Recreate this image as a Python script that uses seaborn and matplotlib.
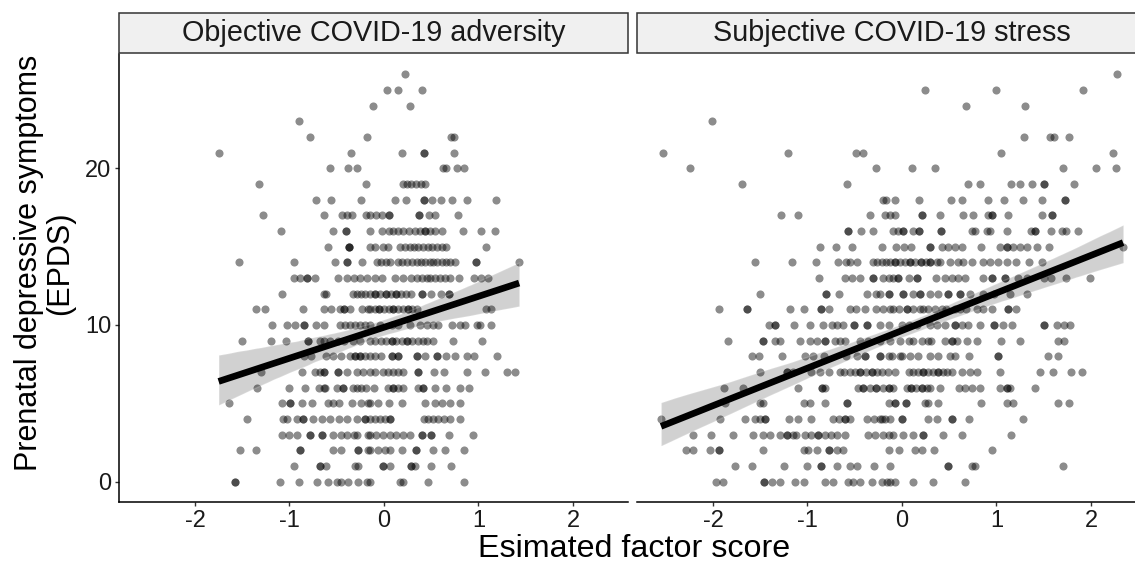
import matplotlib
matplotlib.use("Agg")
import matplotlib.pyplot as plt
from matplotlib.patches import Rectangle
import numpy as np
import pandas as pd
import seaborn as sns

# EPDS score (0..26) -> estimated factor scores of participants with that score
objective_rows = [
    [-1.58, -1.58, -1.10, -0.90, -0.71, -0.59, -0.50, -0.45, -0.38, -0.27, -0.18, -0.15, 0.17, 0.20, 0.47, 0.85],
    [-0.95, -0.68, -0.68, -0.61, -0.31, -0.27, -0.01, -0.01, 0.06, 0.29, 0.29, 0.33, 0.50, 0.71],
    [-1.52, -1.35, -0.89, -0.89, -0.54, -0.45, -0.28, -0.28, -0.17, -0.15, -0.06, 0.01, 0.06, 0.19, 0.34, 0.34,
     0.52, 0.65, 0.85],
    [-1.08, -1.00, -0.92, -0.78, -0.78, -0.66, -0.66, -0.54, -0.45, -0.39, -0.32, -0.29, -0.17, -0.15, -0.08,
     -0.01, 0.06, 0.13, 0.20, 0.28, 0.40, 0.40, 0.50, 0.50, 0.69, 0.94],
    [-1.45, -1.07, -1.03, -0.92, -0.86, -0.86, -0.75, -0.66, -0.57, -0.48, -0.39, -0.29, -0.20, -0.20, -0.15,
     -0.10, -0.04, 0.01, 0.06, 0.06, 0.42, 0.47, 0.52, 0.57, 0.63, 0.70, 0.80],
    [-1.64, -1.08, -0.99, -0.99, -0.87, -0.76, -0.59, -0.54, -0.48, -0.34, -0.24, -0.17, -0.15, -0.06, 0.05,
     0.19, 0.43, 0.54, 0.61, 0.70, 0.80],
    [-1.34, -1.00, -0.84, -0.69, -0.64, -0.62, -0.50, -0.43, -0.43, -0.33, -0.29, -0.24, -0.19, -0.11, 0.04,
     0.10, 0.10, 0.15, 0.20, 0.36, 0.41, 0.41, 0.54, 0.66, 0.80, 0.90],
    [-1.30, -0.87, -0.73, -0.68, -0.64, -0.64, -0.49, -0.49, -0.39, -0.29, -0.22, -0.15, -0.10, -0.01, 0.04,
     0.10, 0.15, 0.20, 0.36, 0.36, 0.53, 0.63, 0.88, 1.07, 1.30, 1.39],
    [-0.85, -0.77, -0.61, -0.54, -0.46, -0.36, -0.31, -0.31, -0.25, -0.25, -0.20, -0.15, -0.10, -0.03, 0.08,
     0.08, 0.15, 0.15, 0.35, 0.35, 0.43, 0.56, 0.56, 0.66, 0.75, 0.88, 0.95, 1.20],
    [-1.50, -1.20, -1.04, -0.80, -0.80, -0.68, -0.64, -0.57, -0.49, -0.42, -0.33, -0.25, -0.15, -0.10, -0.03,
     0.02, 0.08, 0.08, 0.13, 0.19, 0.24, 0.24, 0.30, 0.36, 0.41, 0.46, 0.52, 0.73, 1.04],
    [-1.18, -1.03, -0.94, -0.85, -0.85, -0.72, -0.64, -0.47, -0.41, -0.36, -0.31, -0.25, -0.20, -0.15, -0.04,
     0.08, 0.15, 0.28, 0.38, 0.45, 0.52, 0.57, 0.72, 0.80, 0.86, 0.98, 1.02, 1.13],
    [-1.35, -1.26, -0.86, -0.63, -0.56, -0.47, -0.42, -0.42, -0.36, -0.23, -0.17, -0.15, -0.10, -0.05, -0.05,
     0.00, 0.05, 0.10, 0.10, 0.15, 0.20, 0.25, 0.25, 0.30, 0.35, 1.08, 1.13],
    [-1.08, -0.64, -0.61, -0.33, -0.29, -0.24, -0.20, -0.15, -0.09, -0.09, -0.04, 0.02, 0.02, 0.07, 0.13, 0.13,
     0.18, 0.23, 0.29, 0.40, 0.40, 0.50, 0.60, 0.69, 0.69],
    [-0.95, -0.89, -0.81, -0.81, -0.73, -0.49, -0.39, -0.32, -0.25, -0.18, -0.10, -0.02, 0.12, 0.20, 0.29, 0.35,
     0.40, 0.45, 0.49, 0.54, 0.59, 0.65, 0.70, 0.79, 0.95, 1.03, 1.10],
    [-1.53, -0.95, -0.52, -0.39, -0.39, -0.23, -0.07, -0.03, 0.02, 0.06, 0.15, 0.19, 0.24, 0.30, 0.35, 0.39,
     0.43, 0.49, 0.52, 0.56, 0.61, 0.66, 0.70, 0.75, 0.97, 0.97, 1.43],
    [-0.59, -0.37, -0.37, -0.37, -0.15, -0.10, -0.01, 0.04, 0.17, 0.22, 0.28, 0.32, 0.36, 0.41, 0.47, 0.51,
     0.56, 0.61, 0.66, 1.08],
    [-1.09, -0.54, -0.40, -0.40, -0.15, -0.02, 0.05, 0.10, 0.15, 0.20, 0.26, 0.33, 0.38, 0.43, 0.43, 0.49,
     0.54, 0.61, 0.84, 1.03, 1.17],
    [-1.28, -0.63, -0.44, -0.39, -0.34, -0.19, -0.15, -0.08, -0.02, 0.05, 0.05, 0.37, 0.37, 0.48, 0.54, 0.78],
    [-0.72, -0.56, -0.24, 0.12, 0.23, 0.42, 0.42, 0.51, 0.60, 0.72, 0.88, 1.19],
    [-1.32, -0.19, 0.20, 0.24, 0.29, 0.34, 0.39, 0.43],
    [-0.57, -0.38, -0.29, 0.62, 0.66, 0.77, 0.85],
    [-1.75, -0.35, 0.19, 0.42, 0.42, 0.74],
    [-0.78, -0.18, 0.71, 0.74],
    [-0.90],
    [-0.12, 0.27],
    [0.03, 0.15, 0.40],
    [0.22],
]

subjective_rows = [
    [-1.97, -1.89, -1.46, -1.46, -1.38, -1.29, -1.13, -1.04, -0.81, -0.73, -0.57, -0.52, -0.44, -0.32, -0.21,
     -0.16, -0.13, -0.07, 0.12, 0.33, 0.67],
    [-1.77, -1.59, -1.25, -1.01, -0.86, -0.86, -0.69, -0.55, -0.48, -0.30, -0.13, 0.49, 0.49, 0.74, 0.77, 1.70],
    [-2.29, -2.21, -2.03, -1.94, -1.94, -1.47, -1.04, -0.99, -0.90, -0.77, -0.77, -0.69, -0.62, -0.14, -0.03,
     0.14, 0.21, 0.34, 0.95],
    [-2.21, -2.02, -1.79, -1.58, -1.47, -1.40, -1.29, -1.22, -1.22, -1.15, -1.12, -1.03, -0.96, -0.89, -0.89,
     -0.82, -0.75, -0.69, -0.60, -0.36, -0.29, -0.20, -0.14, -0.09, 0.01, 0.12, 0.22, 0.22, 0.43, 0.64, 1.15],
    [-2.55, -1.93, -1.66, -1.56, -1.50, -1.45, -1.45, -1.20, -1.10, -0.96, -0.73, -0.67, -0.60, -0.60, -0.55,
     -0.37, -0.30, -0.23, -0.21, -0.18, -0.13, 0.00, 0.00, 0.27, 0.37, 0.53, 0.53, 0.71, 1.28],
    [-1.87, -1.50, -1.47, -1.04, -0.97, -0.81, -0.58, -0.58, -0.14, -0.07, -0.07, 0.04, 0.04, 0.24, 0.28, 0.38,
     0.84, 1.11, 1.17, 1.65, 1.77],
    [-1.88, -1.68, -1.10, -0.85, -0.85, -0.81, -0.47, -0.41, -0.41, -0.34, -0.27, -0.27, -0.20, -0.14, -0.14,
     -0.09, 0.05, 0.10, 0.10, 0.15, 0.21, 0.21, 0.26, 0.30, 0.40, 0.60, 0.67, 0.74, 0.83, 1.04, 1.11, 1.11,
     1.14, 1.41],
    [-1.50, -1.22, -1.22, -1.15, -0.96, -0.87, -0.77, -0.66, -0.61, -0.55, -0.50, -0.44, -0.44, -0.38, -0.32,
     -0.32, -0.26, -0.21, -0.15, -0.07, 0.07, 0.12, 0.17, 0.22, 0.22, 0.28, 0.33, 0.38, 0.38, 0.43, 0.48, 0.53,
     0.64, 0.72, 0.79, 1.04, 1.46, 1.60, 1.79, 1.90],
    [-1.59, -1.51, -1.27, -1.03, -0.94, -0.83, -0.59, -0.48, -0.39, -0.39, -0.23, -0.23, -0.14, -0.11, -0.02,
     0.00, 0.08, 0.17, 0.30, 0.38, 0.51, 0.56, 0.71, 1.02, 1.02, 1.55, 1.65],
    [-1.84, -1.47, -1.47, -1.34, -1.29, -1.08, -0.97, -0.90, -0.82, -0.82, -0.71, -0.66, -0.60, -0.44, -0.36,
     -0.23, -0.13, -0.02, 0.07, 0.12, 0.21, 0.28, 0.31, 0.46, 0.53, 0.53, 0.58, 0.69, 0.79, 1.05, 1.25, 1.65,
     1.71],
    [-1.41, -1.34, -1.34, -1.14, -0.97, -0.84, -0.74, -0.69, -0.62, -0.51, -0.51, -0.37, -0.37, -0.23, -0.14,
     0.00, 0.07, 0.16, 0.30, 0.37, 0.46, 0.56, 0.56, 0.63, 0.70, 0.83, 0.97, 0.97, 1.07, 1.16, 1.50, 1.50,
     1.64, 1.71, 1.78],
    [-1.94, -1.64, -1.64, -1.18, -1.04, -0.86, -0.86, -0.77, -0.55, -0.49, -0.39, -0.27, -0.20, -0.13, -0.10,
     -0.03, 0.05, 0.05, 0.12, 0.19, 0.22, 0.28, 0.35, 0.42, 0.47, 0.56, 0.61, 0.68, 0.79, 0.86, 0.95, 1.12,
     1.12, 1.21],
    [-1.50, -0.80, -0.80, -0.67, -0.37, -0.27, -0.23, -0.14, -0.14, 0.01, 0.01, 0.12, 0.19, 0.19, 0.30, 0.38,
     0.49, 0.49, 0.61, 0.61, 0.72, 0.86, 0.97, 1.14, 1.32],
    [-0.88, -0.60, -0.53, -0.44, -0.31, -0.31, -0.20, -0.14, -0.09, -0.04, -0.04, 0.07, 0.16, 0.16, 0.36, 0.46,
     0.53, 0.59, 0.67, 0.86, 0.95, 0.95, 1.09, 1.09, 1.23, 1.32, 1.50, 1.58, 1.74, 1.99],
    [-1.56, -1.16, -0.91, -0.68, -0.59, -0.55, -0.48, -0.31, -0.26, -0.21, -0.17, -0.13, -0.07, -0.07, -0.02,
     0.03, 0.08, 0.08, 0.14, 0.20, 0.20, 0.25, 0.30, 0.30, 0.37, 0.40, 0.51, 0.59, 0.65, 0.74, 0.86, 0.93,
     1.02, 1.11, 1.21, 1.34, 1.48],
    [-0.87, -0.70, -0.53, -0.21, -0.06, 0.02, 0.10, 0.30, 0.30, 0.42, 0.49, 0.56, 0.63, 0.84, 1.04, 1.11, 1.11,
     1.17, 1.25, 1.32, 1.43, 1.56, 2.34],
    [-0.57, -0.57, -0.43, -0.31, -0.09, -0.04, 0.01, 0.01, 0.12, 0.18, 0.18, 0.41, 0.41, 0.74, 0.77, 0.90, 0.93,
     1.11, 1.37, 1.41, 1.41, 1.58, 1.69, 1.74, 1.86],
    [-1.28, -1.10, -0.34, -0.18, -0.13, -0.07, 0.21, 0.21, 0.40, 0.65, 0.75, 0.91, 0.95, 0.95, 1.12, 1.48, 1.59,
     1.59],
    [-0.20, -0.17, -0.07, 0.18, 0.52, 0.64, 0.91, 1.08, 1.28, 1.48, 1.73, 1.73],
    [-1.69, -0.58, 0.70, 0.83, 1.15, 1.25, 1.38, 1.50, 1.50, 1.82],
    [-2.24, -0.28, 0.11, 0.35, 1.70, 2.05, 2.26],
    [-2.53, -1.21, -0.49, -0.41, 1.05, 2.23],
    [1.29, 1.57, 1.61, 1.77],
    [-2.01],
    [0.68, 1.30],
    [0.24, 1.00, 1.92],
    [2.27],
]

facet_titles = ["Objective COVID-19 adversity", "Subjective COVID-19 stress"]
x_ticks = [-2, -1, 0, 1, 2]
y_ticks = [0, 10, 20]


def to_frame(rows, title):
    recs = [(x, epds, title) for epds, xs in enumerate(rows) for x in xs]
    return pd.DataFrame(recs, columns=["score", "epds", "factor"])


data = pd.concat([to_frame(objective_rows, facet_titles[0]),
                  to_frame(subjective_rows, facet_titles[1])], ignore_index=True)

sns.set_theme(style="white")
plt.rcParams["font.family"] = ["Liberation Sans", "DejaVu Sans"]

W, H = 1135, 567
fig = plt.figure(figsize=(W / 100, H / 100), dpi=100)
fig.patch.set_facecolor("white")

panel_top, panel_bottom = 54, 502
panels = [(119.4, 627.8), (637.4, 1145.8)]
xlim = (-2.80, 2.58)
ylim = (-1.3, 27.3)

for i, ((lft, rgt), title) in enumerate(zip(panels, facet_titles)):
    ax = fig.add_axes([lft / W, (H - panel_bottom) / H, (rgt - lft) / W,
                       (panel_bottom - panel_top) / H])
    sub = data[data["factor"] == title]
    sns.regplot(data=sub, x="score", y="epds", ax=ax, ci=95, seed=7, truncate=True,
                color="black",
                scatter_kws=dict(s=34, alpha=0.45, linewidths=0, color="black"),
                line_kws=dict(lw=4.8, color="black", solid_capstyle="butt"))
    # give the confidence band a slightly stronger grey
    for coll in ax.collections[1:]:
        coll.set_alpha(0.18)
    ax.set_xlim(*xlim)
    ax.set_ylim(*ylim)
    ax.set_xticks(x_ticks)
    ax.set_xticklabels([str(t) for t in x_ticks])
    ax.set_xlabel("")
    ax.set_ylabel("")
    for s in ["top", "right"]:
        ax.spines[s].set_visible(False)
    ax.spines["bottom"].set_color("black")
    ax.spines["bottom"].set_linewidth(1.1)
    ax.tick_params(axis="x", length=3, width=1, color="#333333", labelsize=17,
                   labelcolor="#1a1a1a", pad=3, bottom=True)
    if i == 0:
        ax.set_yticks(y_ticks)
        ax.set_yticklabels([str(t) for t in y_ticks])
        ax.spines["left"].set_color("black")
        ax.spines["left"].set_linewidth(1.1)
        ax.tick_params(axis="y", length=3, width=1, color="#333333", labelsize=17,
                       labelcolor="#1a1a1a", pad=3, left=True)
    else:
        ax.spines["left"].set_visible(False)
        ax.set_yticks(y_ticks)
        ax.tick_params(axis="y", left=False, labelleft=False)

    # facet strip
    h = panel_bottom - panel_top
    y0 = (panel_bottom - 53) / h
    y1 = (panel_bottom - 13) / h
    ax.add_patch(Rectangle((0, y0), 1, y1 - y0, transform=ax.transAxes,
                           facecolor="#f0f0f0", edgecolor="#333333", lw=1.1,
                           clip_on=False, zorder=5))
    ax.text(0.5, (y0 + y1) / 2, title, transform=ax.transAxes, ha="center",
            va="center", fontsize=20.7, color="#1a1a1a", zorder=6)

fig.text(634 / W, (H - 549) / H, "Esimated factor score", ha="center", va="center",
         fontsize=23.2, color="black")
fig.text(45 / W, (H - 263) / H, "Prenatal depressive symptoms\n(EPDS)", ha="center",
         va="center", rotation=90, multialignment="center", fontsize=22,
         linespacing=1.05, color="black")

fig.savefig("out.png", dpi=100, facecolor="white")
